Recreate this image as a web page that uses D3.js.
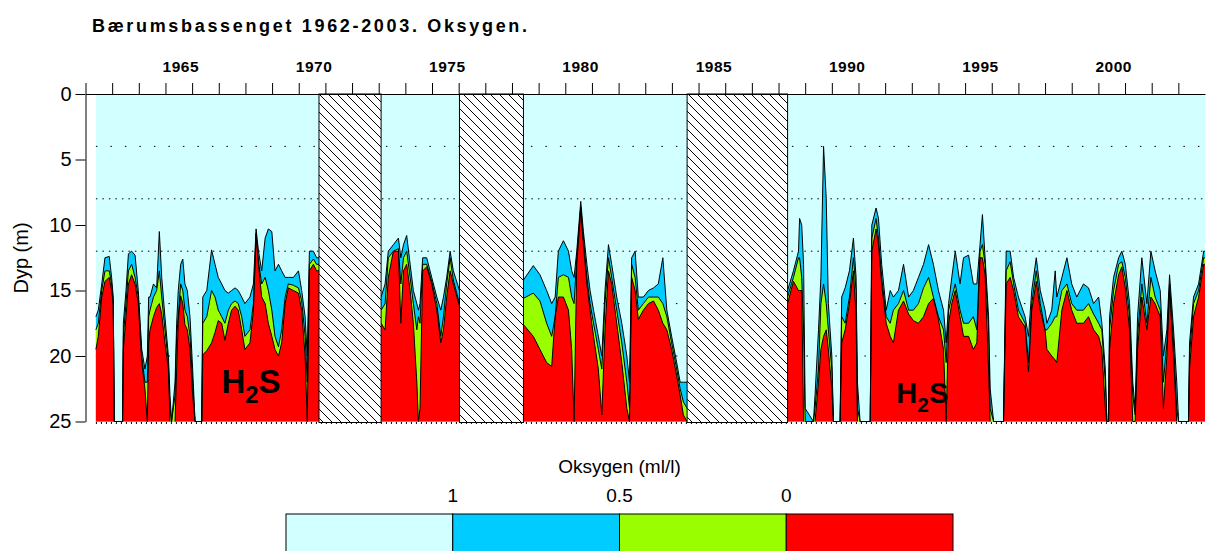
<!DOCTYPE html>
<html>
<head>
<meta charset="utf-8">
<script src="https://cdn.jsdelivr.net/npm/d3@7"></script>
<style>
  body { margin: 0; background: #fff; }
  svg text { font-family: "Liberation Sans", Arial, sans-serif; fill: #000; }
</style>
</head>
<body>
<div id="chart"></div>
<script>
"use strict"

// rows: [year, depth of 1 ml/l, depth of 0.5 ml/l, depth of 0 ml/l (H2S top)]
const period1962 = [
	[1962.39, 17.0, 18.0, 19.5], [1962.48, 16.5, 17.5, 18.5], [1962.61, 14.5, 15.0, 15.5],
	[1962.73, 12.5, 13.5, 14.3], [1962.89, 12.4, 13.5, 14.0], [1962.98, 14.0, 14.5, 15.0],
	[1963.04, 15.5, 15.8, 16.0], [1963.08, 25, 25, 25], [1963.39, 25, 25, 25],
	[1963.42, 17.5, 18.5, 19.5], [1963.52, 15.0, 16.0, 17.0], [1963.61, 12.2, 13.5, 14.5],
	[1963.73, 12.0, 13.0, 13.8], [1963.86, 12.3, 14.0, 14.5], [1963.98, 15.0, 15.5, 16.0],
	[1964.11, 19.5, 20.0, 20.5], [1964.23, 21.0, 22.0, 22.5], [1964.32, 20.0, 22.0, 25],
	[1964.37, 15.5, 17.0, 19.0], [1964.42, 15.5, 16.5, 18.0], [1964.55, 14.5, 15.5, 17.0],
	[1964.67, 14.8, 15.0, 16.3], [1964.77, 10.5, 13.5, 16.0], [1964.86, 14.0, 15.5, 16.8],
	[1964.98, 17.0, 18.0, 19.0], [1965.11, 20.0, 20.5, 21.0], [1965.17, 23.0, 24.0, 25],
	[1965.23, 25, 25, 25], [1965.36, 22.0, 23.0, 25], [1965.42, 17.5, 18.5, 21.0],
	[1965.48, 15.0, 17.0, 17.3], [1965.57, 13.0, 14.5, 15.4], [1965.65, 12.6, 15.0, 16.0],
	[1965.73, 14.5, 16.5, 17.6], [1965.82, 15.0, 17.0, 18.0], [1965.92, 17.0, 18.5, 19.5],
	[1966.02, 21.0, 22.0, 23.0], [1966.11, 25, 25, 25], [1966.36, 25, 25, 25],
	[1966.40, 15.5, 17.5, 19.9], [1966.55, 15.0, 17.0, 19.6], [1966.73, 11.9, 15.0, 19.0],
	[1966.86, 13.0, 15.5, 18.2], [1966.98, 14.0, 16.5, 17.3], [1967.11, 14.5, 17.0, 17.5],
	[1967.23, 15.0, 17.5, 18.8], [1967.36, 15.2, 16.5, 17.5], [1967.48, 15.0, 16.0, 16.5],
	[1967.61, 14.8, 15.8, 16.2], [1967.73, 15.0, 16.0, 16.5], [1967.86, 15.5, 17.0, 18.0],
	[1967.98, 16.0, 18.5, 19.5], [1968.17, 15.5, 18.0, 19.0], [1968.30, 14.5, 16.0, 16.5],
	[1968.40, 10.3, 10.6, 10.8], [1968.49, 12.0, 12.8, 13.0], [1968.61, 13.5, 14.5, 15.5],
	[1968.74, 11.0, 14.0, 16.0], [1968.86, 10.3, 15.0, 17.5], [1968.99, 10.5, 16.5, 18.5],
	[1969.11, 13.5, 18.5, 19.5], [1969.24, 13.0, 19.3, 20.0], [1969.36, 13.5, 18.0, 19.0],
	[1969.49, 14.0, 15.5, 16.0], [1969.61, 14.0, 14.5, 14.8], [1969.80, 14.0, 14.6, 15.0],
	[1969.99, 13.5, 14.8, 15.2], [1970.11, 15.0, 15.8, 16.5], [1970.24, 17.0, 18.5, 20.0],
	[1970.32, 20.0, 22.0, 25], [1970.40, 12.0, 13.0, 13.5], [1970.55, 12.0, 12.6, 13.0],
	[1970.67, 12.5, 13.0, 13.5], [1970.76, 12.5, 13.0, 13.5]
];

const period1973 = [
	[1973.09, 15.5, 16.5, 17.5], [1973.24, 14.5, 16.0, 18.0], [1973.36, 12.0, 12.5, 14.0],
	[1973.55, 11.5, 12.0, 12.0], [1973.74, 11.0, 11.8, 12.0], [1973.83, 12.5, 14.5, 17.5],
	[1973.93, 11.5, 12.5, 13.5], [1974.05, 10.8, 12.0, 13.0], [1974.18, 13.0, 14.0, 15.0],
	[1974.30, 15.0, 16.0, 17.5], [1974.43, 16.0, 18.0, 22.0], [1974.49, 16.5, 17.0, 25],
	[1974.55, 16.0, 17.5, 24.0], [1974.65, 12.5, 13.0, 13.5], [1974.80, 12.5, 13.0, 13.2],
	[1974.99, 14.0, 14.3, 14.5], [1975.18, 15.5, 16.0, 16.5], [1975.33, 16.5, 18.5, 19.0],
	[1975.43, 15.5, 17.0, 18.0], [1975.55, 14.0, 14.5, 15.5], [1975.68, 12.0, 12.5, 13.5],
	[1975.80, 13.5, 14.2, 14.5], [1976.03, 15.0, 16.0, 16.2]
];

const period1978 = [
	[1978.43, 14.2, 15.6, 17.6], [1978.80, 13.1, 15.2, 18.5], [1979.05, 13.8, 15.8, 19.5],
	[1979.30, 15.0, 17.5, 20.5], [1979.49, 16.0, 18.5, 20.8], [1979.62, 15.5, 17.0, 17.0],
	[1979.74, 12.0, 14.0, 15.5], [1979.93, 11.2, 13.8, 15.5], [1980.12, 12.0, 14.0, 16.5],
	[1980.24, 13.5, 15.5, 19.5], [1980.33, 14.0, 16.0, 25], [1980.43, 12.0, 12.5, 13.0],
	[1980.58, 8.2, 8.6, 9.0], [1980.68, 10.5, 11.0, 11.5], [1980.81, 13.0, 14.0, 14.5],
	[1980.93, 15.0, 16.0, 16.5], [1981.06, 16.5, 17.5, 18.5], [1981.24, 18.5, 19.5, 21.0],
	[1981.37, 20.0, 21.0, 24.5], [1981.49, 15.0, 16.0, 18.0], [1981.62, 11.5, 12.5, 13.5],
	[1981.74, 13.0, 14.0, 14.5], [1981.93, 15.5, 16.5, 17.5], [1982.12, 17.5, 19.0, 20.5],
	[1982.31, 20.0, 22.0, 24.0], [1982.41, 22.0, 24.0, 25], [1982.49, 12.5, 13.0, 14.0],
	[1982.62, 12.0, 14.0, 15.0], [1982.74, 15.5, 16.5, 17.2], [1982.93, 15.5, 16.0, 16.5],
	[1983.12, 15.0, 15.5, 16.0], [1983.31, 14.8, 15.5, 15.8], [1983.49, 14.5, 15.5, 16.5],
	[1983.66, 12.5, 16.0, 17.5], [1983.81, 16.5, 17.0, 18.0], [1983.99, 18.5, 19.0, 19.5],
	[1984.18, 20.5, 21.0, 21.5], [1984.31, 22.0, 22.5, 23.0], [1984.43, 22.0, 23.5, 24.5],
	[1984.57, 22.0, 24.0, 25]
];

const period1988 = [
	[1988.34, 15.0, 15.5, 16.0], [1988.56, 13.5, 14.0, 14.3], [1988.75, 12.0, 12.5, 15.0],
	[1988.79, 9.5, 12.5, 15.0], [1988.87, 10.0, 14.0, 15.0], [1988.94, 13.0, 18.0, 25],
	[1989.00, 24.0, 25, 25], [1989.31, 25, 25, 25], [1989.37, 23.0, 24.0, 25],
	[1989.50, 18.0, 21.0, 22.0], [1989.59, 14.0, 16.0, 19.5], [1989.69, 4.0, 14.5, 18.5],
	[1989.79, 8.0, 16.0, 18.0], [1989.87, 16.0, 18.0, 19.5], [1990.00, 20.0, 21.0, 22.5],
	[1990.06, 25, 25, 25], [1990.31, 25, 25, 25], [1990.37, 15.5, 17.0, 19.0],
	[1990.50, 14.8, 17.5, 18.0], [1990.66, 13.5, 15.5, 16.0], [1990.81, 11.0, 12.5, 13.5],
	[1990.91, 14.0, 15.0, 17.0], [1990.96, 22.0, 24.0, 25], [1991.06, 25, 25, 25],
	[1991.44, 25, 25, 25], [1991.50, 10.0, 11.0, 12.0], [1991.66, 8.7, 9.5, 10.3],
	[1991.75, 9.5, 11.0, 11.5], [1991.87, 13.0, 14.0, 14.5], [1992.04, 16.5, 17.0, 17.5],
	[1992.19, 15.0, 17.5, 18.5], [1992.31, 15.5, 16.5, 19.0], [1992.50, 15.0, 16.0, 16.5],
	[1992.69, 13.0, 15.0, 15.8], [1992.88, 15.5, 16.5, 16.8], [1993.06, 15.0, 16.5, 17.3],
	[1993.25, 14.0, 16.0, 17.5], [1993.44, 13.0, 14.8, 17.0], [1993.63, 11.5, 14.0, 16.0],
	[1993.81, 13.0, 15.5, 15.6], [1994.00, 15.0, 17.0, 17.2], [1994.19, 16.5, 18.0, 19.5],
	[1994.29, 19.0, 20.5, 25], [1994.38, 16.0, 16.5, 17.5], [1994.50, 14.0, 15.5, 16.0],
	[1994.63, 12.0, 14.5, 15.0], [1994.81, 14.5, 16.5, 17.0], [1994.94, 12.5, 17.5, 18.5],
	[1995.13, 12.3, 17.5, 18.5], [1995.31, 14.5, 17.0, 19.5], [1995.44, 14.5, 18.0, 19.0],
	[1995.56, 11.5, 12.0, 12.5], [1995.65, 9.2, 11.5, 12.5], [1995.75, 12.5, 13.0, 13.8],
	[1995.88, 17.0, 18.0, 21.0], [1995.94, 22.5, 24.0, 25], [1996.07, 25, 25, 25],
	[1996.44, 25, 25, 25], [1996.54, 12.0, 13.5, 14.5], [1996.69, 12.0, 12.8, 14.0],
	[1996.82, 14.0, 14.5, 15.0], [1997.00, 15.5, 16.5, 17.0], [1997.25, 17.0, 17.5, 17.8],
	[1997.38, 18.5, 20.5, 21.2], [1997.50, 15.0, 16.0, 16.5], [1997.67, 12.5, 13.5, 14.3],
	[1997.82, 15.0, 16.0, 16.5], [1998.00, 16.5, 18.0, 18.0], [1998.07, 17.5, 18.0, 19.5],
	[1998.25, 16.5, 17.5, 20.0], [1998.38, 13.5, 17.0, 20.3], [1998.44, 15.5, 17.0, 20.5],
	[1998.63, 14.0, 15.0, 16.5], [1998.82, 12.5, 14.5, 15.0], [1999.00, 14.5, 16.0, 16.5],
	[1999.19, 15.5, 16.5, 17.5], [1999.44, 14.5, 16.5, 17.5], [1999.63, 14.8, 16.0, 17.0],
	[1999.82, 16.0, 16.8, 18.0], [2000.01, 15.5, 17.5, 18.5], [2000.13, 17.5, 18.0, 19.5],
	[2000.26, 21.0, 22.0, 24.0], [2000.32, 25, 25, 25], [2000.38, 25, 25, 25],
	[2000.42, 17.0, 18.0, 19.5], [2000.57, 14.0, 15.0, 16.0], [2000.76, 12.5, 13.0, 13.8],
	[2000.88, 12.0, 12.8, 13.2], [2001.01, 13.0, 14.0, 14.8], [2001.17, 16.0, 17.0, 18.0],
	[2001.29, 22.0, 23.0, 25], [2001.38, 24.0, 24.5, 25], [2001.47, 17.0, 18.5, 19.5],
	[2001.63, 12.5, 14.5, 15.5], [2001.82, 16.0, 17.5, 18.0], [2001.97, 12.0, 14.0, 15.5],
	[2002.13, 13.5, 15.5, 16.0], [2002.32, 15.0, 16.5, 17.0], [2002.44, 20.0, 22.0, 24.0],
	[2002.57, 18.0, 19.0, 20.0], [2002.67, 13.8, 14.5, 15.0], [2002.82, 18.0, 19.0, 20.0],
	[2002.94, 22.0, 24.0, 25], [2003.01, 25, 25, 25], [2003.38, 25, 25, 25],
	[2003.42, 19.0, 20.0, 21.0], [2003.57, 15.5, 16.0, 17.0], [2003.76, 14.5, 15.0, 15.5],
	[2003.95, 12.0, 12.5, 13.0], [2004.00, 12.0, 12.5, 13.0]
];

// periods without measurements (hatched)
const gapStart = [1970.76, 1976.03, 1984.57];
const gapEnd = [1973.09, 1978.43, 1988.34];

const yearTicks = d3.range(1962, 2004);
const yearLabels = [1965, 1970, 1975, 1980, 1985, 1990, 1995, 2000];
const depthTicks = [0, 5, 10, 15, 20, 25];
const sampleDepths = [4, 8, 12, 16, 20, 25];
const legendLabels = ["1", "0.5", "0"];
const legendColors = ["#d2ffff", "#00ccff", "#99ff00", "#ff0000"];
const h2sLabels = [[1967.1, 22.8, 33], [1992.42, 23.6, 29]];

const periods = [period1962, period1973, period1978, period1988];

let W = 1206, H = 551;
let svg = d3.select("#chart").append("svg")
	.attr("width", W)
	.attr("height", H);

let x = d3.scaleLinear().domain([1962, 2004]).range([85.5, 1205]);
let y = d3.scaleLinear().domain([0, 25]).range([94, 421.5]);

// hatch pattern
let pat = svg.append("defs").append("pattern")
	.attr("id", "hatch")
	.attr("patternUnits", "userSpaceOnUse")
	.attr("width", 9)
	.attr("height", 9);
pat.append("rect").attr("width", 9).attr("height", 9).attr("fill", "#fff");
pat.append("path")
	.attr("d", "M-1,-1 L10,10 M-1,8 L1,10 M8,-1 L10,1")
	.attr("stroke", "#000")
	.attr("stroke-width", 1);

// background (> 1 ml/l)
let dataStart = period1962[0][0];
svg.append("rect")
	.attr("x", x(dataStart))
	.attr("y", y(0))
	.attr("width", x(2004) - x(dataStart))
	.attr("height", y(25) - y(0))
	.attr("fill", legendColors[0]);

// sampling depths, dotted
svg.append("g").selectAll("line")
	.data(sampleDepths.filter(d => d < 25))
	.enter().append("line")
		.attr("x1", x(dataStart))
		.attr("x2", x(2004))
		.attr("y1", d => y(d))
		.attr("y2", d => y(d))
		.attr("stroke", "#000")
		.attr("stroke-width", 1)
		.attr("stroke-dasharray", d => (d == 8 || d == 12) ? "1.5,5" : "1.5,13");

// filled oxygen layers
let layers = [1, 2, 3];
let fills = svg.append("g");
periods.forEach(p => {
	layers.forEach(k => {
		fills.append("path")
			.datum(p)
			.attr("fill", legendColors[k])
			.attr("d", d3.area()
				.x(d => x(d[0]))
				.y0(y(25))
				.y1(d => y(d[k])));
	});
});

// contour lines
let lines = svg.append("g");
periods.forEach(p => {
	layers.forEach(k => {
		lines.append("path")
			.datum(p)
			.attr("fill", "none")
			.attr("stroke", "#000")
			.attr("stroke-width", 1)
			.attr("d", d3.line()
				.defined((d, i, a) => d[k] < 25 || (i > 0 && a[i-1][k] < 25) || (i < a.length-1 && a[i+1][k] < 25))
				.x(d => x(d[0]))
				.y(d => y(d[k])));
	});
});

// bottom sampling marks
svg.append("line")
	.attr("x1", x(dataStart))
	.attr("x2", x(2004))
	.attr("y1", y(25) + 1.5)
	.attr("y2", y(25) + 1.5)
	.attr("stroke", "#000")
	.attr("stroke-width", 2)
	.attr("stroke-dasharray", "1,4");

// hatched gaps
svg.append("g").selectAll("rect")
	.data(gapStart)
	.enter().append("rect")
		.attr("x", d => x(d))
		.attr("y", y(0))
		.attr("width", (d, i) => x(gapEnd[i]) - x(d))
		.attr("height", y(25) - y(0) + 1)
		.attr("fill", "url(#hatch)")
		.attr("stroke", "#000")
		.attr("stroke-width", 1);

// top axis
let xAxis = svg.append("g")
	.attr("transform", `translate(0,${y(0)})`)
	.call(d3.axisTop(x).tickValues(yearTicks).tickFormat("").tickSize(11).tickSizeOuter(0));
xAxis.selectAll("line, path").attr("stroke", "#000");

svg.append("g").selectAll("text")
	.data(yearLabels)
	.enter().append("text")
		.attr("x", d => x(d + 0.5) + 2)
		.attr("y", 72)
		.attr("text-anchor", "middle")
		.style("font-size", "15.5px")
		.style("font-weight", "bold")
		.style("letter-spacing", "0.5px")
		.text(d => d);

// left axis
let yAxis = svg.append("g")
	.attr("transform", `translate(${x(1962)},0)`)
	.call(d3.axisLeft(y).tickValues(depthTicks).tickSize(10).tickSizeOuter(0).tickPadding(4));
yAxis.selectAll("line, path").attr("stroke", "#000");
yAxis.selectAll("text").style("font-size", "20px").attr("fill", "#000");

svg.append("text")
	.attr("transform", "translate(28,258)rotate(-90)")
	.attr("text-anchor", "middle")
	.style("font-size", "20px")
	.text("Dyp (m)");

// title
svg.append("text")
	.attr("x", 92)
	.attr("y", 32)
	.attr("textLength", 435)
	.attr("lengthAdjust", "spacing")
	.style("font-size", "18px")
	.style("font-weight", "bold")
	.text("Bærumsbassenget 1962-2003. Oksygen.");

// H2S labels
h2sLabels.forEach(l => {
	let t = svg.append("text")
		.attr("x", x(l[0]))
		.attr("y", y(l[1]))
		.style("font-size", l[2] + "px")
		.style("font-weight", "bold");
	t.append("tspan").text("H");
	t.append("tspan").attr("dy", l[2] * 0.3).style("font-size", (l[2] * 0.72) + "px").text("2");
	t.append("tspan").attr("dy", -l[2] * 0.3).text("S");
});

// legend
let legX = d3.scaleBand().domain(d3.range(legendColors.length)).range([286, 953]);
svg.append("text")
	.attr("x", legX(2))
	.attr("y", 473)
	.attr("text-anchor", "middle")
	.style("font-size", "19px")
	.text("Oksygen (ml/l)");

svg.append("g").selectAll("rect")
	.data(legendColors)
	.enter().append("rect")
		.attr("x", (d, i) => legX(i))
		.attr("y", 514)
		.attr("width", legX.bandwidth())
		.attr("height", 50)
		.attr("fill", d => d)
		.attr("stroke", "#000")
		.attr("stroke-width", 1);

svg.append("g").selectAll("text")
	.data(legendLabels)
	.enter().append("text")
		.attr("x", (d, i) => legX(i + 1))
		.attr("y", 502)
		.attr("text-anchor", "middle")
		.style("font-size", "19px")
		.text(d => d);
</script>
</body>
</html>
